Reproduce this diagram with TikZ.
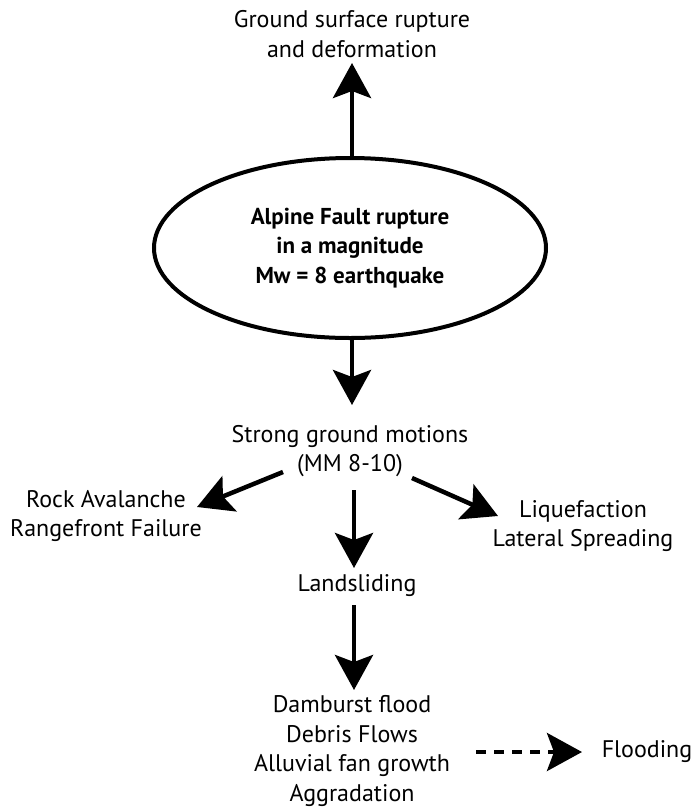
\documentclass[tikz,border=0pt]{standalone}
\usepackage{fontspec}
\setmainfont{PT Sans}
\usetikzlibrary{arrows.meta,shapes.geometric}
\begin{document}
\begin{tikzpicture}[x=1pt,y=1pt,
  lbl/.style={align=center,inner sep=0pt,font=\fontsize{24}{29.5}\selectfont},
  arr/.style={line width=4.5pt,-{Stealth[length=35pt,width=38pt,inset=7pt]}},
  dsh/.style={line width=4pt,dash pattern=on 10pt off 8pt,-{Stealth[length=35pt,width=38pt,inset=7pt]}}]
\useasboundingbox (0,0) rectangle (695,-807);
\node[lbl] (ground) at (352,-34) {Ground surface rupture\\and deformation};
\node[draw,ellipse,line width=4pt,minimum width=392pt,minimum height=180pt,inner sep=0pt,align=center,
  font=\bfseries\fontsize{23}{29.5}\selectfont] (ell) at (350,-248) {Alpine Fault rupture\\in a magnitude\\Mw = 8 earthquake};
\node[lbl] (strong) at (350,-451) {Strong ground motions\\(MM 8-10)};
\node[lbl] (rock) at (106,-516) {Rock Avalanche\\Rangefront Failure};
\node[lbl] (liq) at (583,-526) {Liquefaction\\Lateral Spreading};
\node[lbl] (land) at (357,-586) {Landsliding};
\node[lbl] (dam) at (352,-751) {Damburst flood\\Debris Flows\\Alluvial fan growth\\Aggradation};
\node[lbl] (flood) at (647,-752) {Flooding};
\coordinate (up0) at (352,-157);
\coordinate (up1) at (352,-63);
\coordinate (dn0) at (352,-340);
\coordinate (dn1) at (352,-405);
\coordinate (l0) at (283,-472);
\coordinate (l1) at (197,-507);
\coordinate (m0) at (354,-490);
\coordinate (m1) at (354,-568);
\coordinate (r0) at (412,-478);
\coordinate (r1) at (498,-516);
\coordinate (d0) at (354,-605);
\coordinate (d1) at (354,-690);
\coordinate (f0) at (476,-752);
\coordinate (f1) at (582,-752);
\draw[arr] (up0) -- (up1);
\draw[arr] (dn0) -- (dn1);
\draw[arr] (l0) -- (l1);
\draw[arr] (m0) -- (m1);
\draw[arr] (r0) -- (r1);
\draw[arr] (d0) -- (d1);
\draw[dsh] (f0) -- (f1);
\end{tikzpicture}
\end{document}
